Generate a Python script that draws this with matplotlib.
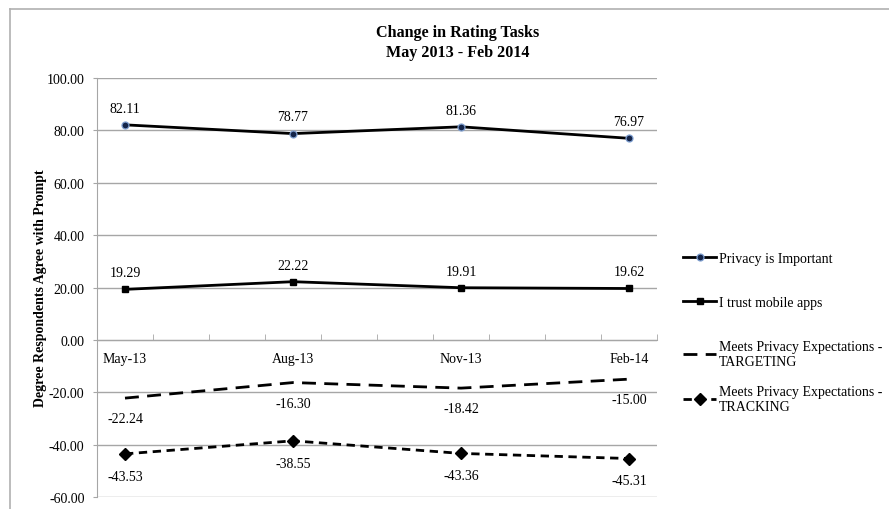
import matplotlib.pyplot as plt
from matplotlib.lines import Line2D

plt.rcParams['font.family'] = ['Liberation Serif', 'DejaVu Serif']

months = ["May-13", "Aug-13", "Nov-13", "Feb-14"]
privacy = [82.11, 78.77, 81.36, 76.97]
trust = [19.29, 22.22, 19.91, 19.62]
targeting = [-22.24, -16.30, -18.42, -15.00]
tracking = [-43.53, -38.55, -43.36, -45.31]

x = list(range(len(months)))

fig = plt.figure(figsize=(8.89, 5.10), dpi=100)
ax = fig.add_axes([97/889, 12/510, 560/889, 419/510])

# outer chart border (left and top edges visible)
fig.add_artist(Line2D([10/889, 10/889], [0, 1 - 10/510], color='#b0b0b0', lw=1.2))
fig.add_artist(Line2D([10/889, 1], [1 - 10/510, 1 - 10/510], color='#b0b0b0', lw=1.2))

gray = '#a6a6a6'
for v in range(-60, 101, 20):
    ax.axhline(v, color=gray, lw=1, zorder=0)

l1, = ax.plot(x, privacy, color='black', lw=2, marker='o', ms=5,
              mfc='#14254a', mec='#7f9fd0', mew=0.9, label='Privacy is Important')
l2, = ax.plot(x, trust, color='black', lw=2, marker='s', ms=5, label='I trust mobile apps')
l3, = ax.plot(x, targeting, color='black', lw=2, ls=(0, (5, 3)),
              label='Meets Privacy Expectations -\nTARGETING')
l4, = ax.plot(x, tracking, color='black', lw=2, ls=(0, (3, 2)), marker='D', ms=6,
              label='Meets Privacy Expectations -\nTRACKING')

for xi, v in zip(x, privacy):
    ax.annotate(f"{v:.2f}", (xi, v), xytext=(0, 12), textcoords='offset points',
                ha='center', va='center', fontsize=10)
for xi, v in zip(x, trust):
    ax.annotate(f"{v:.2f}", (xi, v), xytext=(0, 12), textcoords='offset points',
                ha='center', va='center', fontsize=10)
for xi, v in zip(x, targeting):
    ax.annotate(f"{v:.2f}", (xi, v), xytext=(0, -15), textcoords='offset points',
                ha='center', va='center', fontsize=10)
for xi, v in zip(x, tracking):
    ax.annotate(f"{v:.2f}", (xi, v), xytext=(0, -16), textcoords='offset points',
                ha='center', va='center', fontsize=10)

ax.set_xlim(-1/6, 3 + 1/6)
ax.set_ylim(-60, 100)
ax.set_yticks(range(-60, 101, 20))
ax.set_yticklabels([f"{v:.2f}" for v in range(-60, 101, 20)], fontsize=10)
ax.tick_params(axis='y', length=3, color=gray, pad=6)

# category axis sits on the zero line
ax.spines['bottom'].set_position(('data', 0))
ax.spines['bottom'].set_color(gray)
ax.spines['left'].set_color(gray)
ax.spines['top'].set_visible(False)
ax.spines['right'].set_visible(False)
ax.set_xticks(x)
ax.set_xticklabels(months, fontsize=10)
ax.tick_params(axis='x', length=0, pad=9)
ax.set_xticks([k/3 - 1/6 for k in range(1, 11)], minor=True)
ax.tick_params(axis='x', which='minor', direction='in', length=4, color=gray)

ax.set_ylabel("Degree Respondents Agree with Prompt", fontsize=10,
              fontweight='bold', labelpad=0)

fig.text(458/889, 1 - 43/510, "Change in Rating Tasks\nMay 2013 - Feb 2014",
         ha='center', va='center', fontsize=11.6, fontweight='bold', linespacing=1.4)

leg_kw = dict(bbox_transform=fig.transFigure, frameon=False, fontsize=10,
              handlelength=2.4, handletextpad=0.2, labelspacing=2.25,
              borderpad=0, borderaxespad=0)
leg1 = ax.legend(handles=[l1, l2, l3], loc='center left',
                 bbox_to_anchor=(683/889, 1 - 311/510), **leg_kw)
ax.add_artist(leg1)
ax.legend(handles=[l4], loc='center left',
          bbox_to_anchor=(683/889, 1 - 400/510), **leg_kw)

fig.savefig("out.png", dpi=100)
